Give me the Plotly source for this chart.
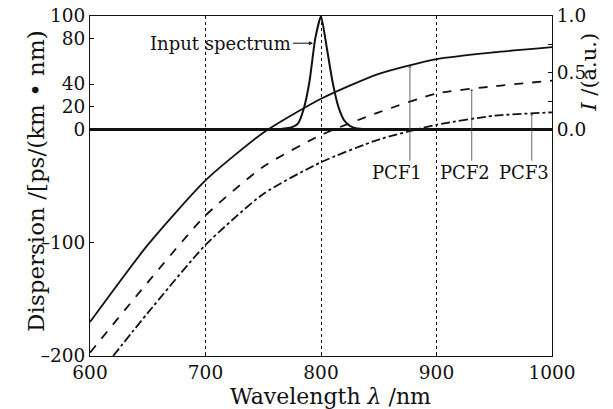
import numpy as np
import plotly.graph_objects as go

# dispersion curves, ps/(km nm)
wavelength = [600, 650, 700, 750, 800, 850, 900, 950, 1000]
pcf1 = [-170, -102, -45, -3, 27, 49, 62, 68, 72.5]
pcf2 = [-197, -135, -76, -33, -5, 15, 31.5, 38, 43]
wavelength3 = [620, 650, 700, 750, 800, 850, 900, 950, 1000]
pcf3 = [-200, -162, -102, -57, -29, -9, 4, 12, 15]

# input spectrum (normalised intensity)
spec_wl = [600, 760, 770, 775, 780, 785, 790, 795, 800, 805, 810, 815, 820, 825, 830, 840, 1000]
spec_i = [0, 0, 0.01, 0.02, 0.05, 0.18, 0.42, 0.8, 1.0, 0.72, 0.42, 0.2, 0.08, 0.03, 0.01, 0, 0]

# where the PCF labels sit and where their arrows point
pcf_names = ["PCF1", "PCF2", "PCF3"]
pcf_label_x = [866, 925, 976]
pcf_arrow_x = [877, 930.5, 982.5]

FONT = "DejaVu Serif"
BLACK = "#111"

fig = go.Figure()

line_style = dict(color=BLACK, width=1.8, shape="spline", smoothing=0.6)
fig.add_trace(go.Scatter(x=wavelength, y=pcf1, mode="lines", line=dict(**line_style, dash="solid")))
fig.add_trace(go.Scatter(x=wavelength, y=pcf2, mode="lines", line=dict(**line_style, dash="dash")))
fig.add_trace(go.Scatter(x=wavelength3, y=pcf3, mode="lines", line=dict(**line_style, dash="dashdot")))
fig.add_trace(
    go.Scatter(
        x=spec_wl, y=spec_i, mode="lines", yaxis="y2",
        line=dict(color=BLACK, width=2, shape="spline", smoothing=0.5),
    )
)

tick_font = dict(family=FONT, size=18.5, color=BLACK)
title_font = dict(family=FONT, size=22, color=BLACK)
small_font = dict(family=FONT, size=18, color=BLACK)

fig.update_layout(
    width=613,
    height=409,
    margin=dict(l=90, r=61, t=16, b=53),
    paper_bgcolor="white",
    plot_bgcolor="white",
    showlegend=False,
    font=tick_font,
    xaxis=dict(
        range=[600, 1000],
        tickvals=[600, 700, 800, 900, 1000],
        ticks="inside",
        ticklen=4,
        tickcolor=BLACK,
        showline=True,
        linecolor=BLACK,
        linewidth=1.2,
        mirror=True,
        showgrid=True,
        gridcolor=BLACK,
        griddash="dot",
        gridwidth=1,
        zeroline=False,
        tickfont=tick_font,
        ticklabeloverflow="allow",
        automargin=False,
    ),
    yaxis=dict(
        range=[-200, 100],
        tickvals=[-200, -100, 0, 20, 40, 80, 100],
        ticktext=["\u2013200", "\u2013100", "0", "20", "40", "80", "100"],
        ticks="inside",
        ticklen=4,
        tickcolor=BLACK,
        showline=True,
        linecolor=BLACK,
        linewidth=1.2,
        showgrid=False,
        zeroline=True,
        zerolinecolor=BLACK,
        zerolinewidth=2.5,
        tickfont=tick_font,
        ticklabeloverflow="allow",
        automargin=False,
    ),
    yaxis2=dict(
        range=[-2, 1],
        overlaying="y",
        side="right",
        tickvals=[0, 0.25, 0.5, 0.75, 1.0],
        ticktext=["0.0", "", "0.5", "", "1.0"],
        ticks="inside",
        ticklen=4,
        tickcolor=BLACK,
        showline=True,
        linecolor=BLACK,
        linewidth=1.2,
        showgrid=False,
        zeroline=False,
        tickfont=tick_font,
        ticklabeloverflow="allow",
        automargin=False,
    ),
)

# axis titles
fig.add_annotation(
    text="Wavelength <i>λ</i> /nm", xref="paper", yref="paper", x=0.52, y=0,
    yshift=-26, yanchor="top", showarrow=False, font=title_font,
)
fig.add_annotation(
    text="Dispersion /[ps/(km • nm)", xref="paper", yref="paper", x=0, y=0.515,
    xshift=-69, textangle=-90, showarrow=False, font=dict(family=FONT, size=23, color=BLACK),
)
fig.add_annotation(
    text="<i>I</i> /(a.u.)", xref="paper", yref="y2", x=1, y=0.5,
    xshift=51, textangle=-90, showarrow=False, font=dict(family=FONT, size=21, color=BLACK),
)

# input spectrum label
fig.add_annotation(
    text="Input spectrum", x=793, y=0.76, yref="y2", ax=-92, ay=0,
    showarrow=True, arrowhead=2, arrowsize=0.8, arrowwidth=1, arrowcolor=BLACK,
    standoff=0, font=small_font,
)

# PCF labels with their pointers
curves = [(wavelength, pcf1), (wavelength, pcf2), (wavelength3, pcf3)]
for name, lx, axx, (cx, cy) in zip(pcf_names, pcf_label_x, pcf_arrow_x, curves):
    fig.add_annotation(text=name, x=lx, y=-38, showarrow=False, font=small_font)
    fig.add_annotation(
        text="", x=axx, y=float(np.interp(axx, cx, cy)), ax=axx, ay=-29,
        axref="x", ayref="y", showarrow=True, arrowhead=1, arrowsize=0.7,
        arrowwidth=0.8, arrowcolor="#444", standoff=0,
    )

# drop the default 8px page margin so the figure fills the window
fig.write_html(
    "out.html",
    config={"displayModeBar": False},
    post_script="document.body.style.margin = '0';",
)
